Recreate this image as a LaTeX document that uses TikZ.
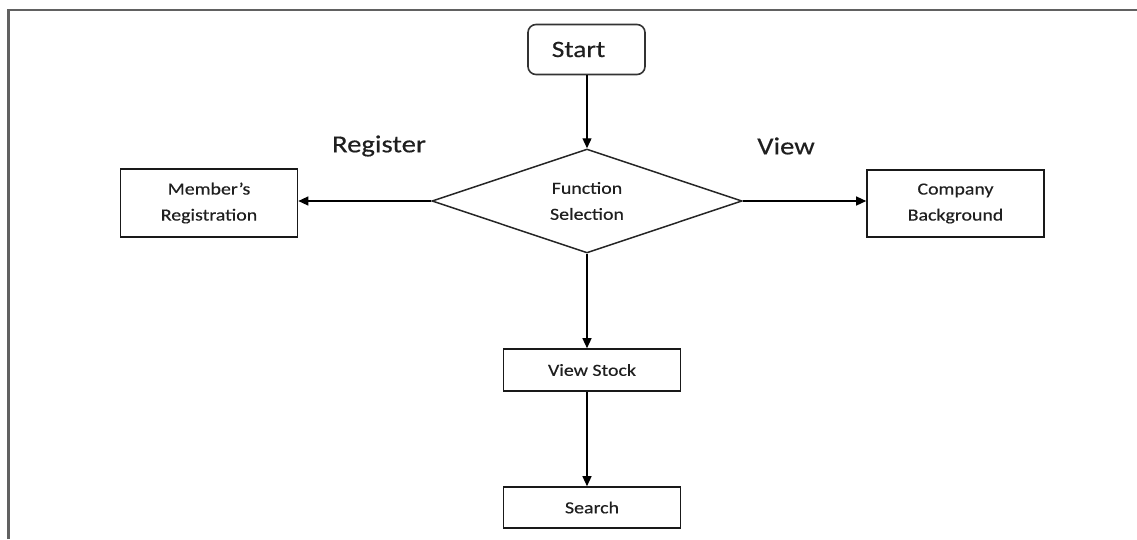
\documentclass[tikz,border=0pt]{standalone}
\usepackage{fontspec}
\setmainfont[FakeStretch=1.17,FakeBold=0.4]{Carlito}
\usetikzlibrary{shapes.geometric,arrows.meta}

\tikzset{
  box/.style={draw=black!90, line width=1.6pt, minimum width=177pt, inner sep=0pt,
    font=\fontsize{17}{26}\selectfont, align=center, text=black!88},
  decision/.style={diamond, draw=black!85, line width=1.5pt, minimum width=310pt,
    minimum height=104pt, inner sep=0pt, aspect=3,
    font=\fontsize{17}{26}\selectfont, align=center, text=black!88},
  terminal/.style={draw=black!80, line width=1.6pt, rounded corners=8pt,
    minimum width=117pt, minimum height=50pt, inner sep=0pt,
    font=\fontsize{23.5}{28}\selectfont, text=black!88},
  flow/.style={line width=1.3pt, draw=black, -{Triangle[length=10pt,width=9pt]}},
  branch/.style={font=\fontsize{24.5}{28}\selectfont, text=black!88},
  frame/.style={draw=black!62, line width=2.6pt}
}

\begin{document}
\begin{tikzpicture}[x=1pt,y=-1pt]
  \useasboundingbox (0,0) rectangle (1137,539);

  % outer frame (left and top edges only)
  \draw[frame] (8.5,539) -- (8.5,10) -- (1137,10);

  % nodes
  \node[terminal] (start) at (586.5,49.5) {Start\hspace*{16pt}};
  \node[decision] (fs) at (587,201) {Function\\Selection};
  \node[box, minimum height=68pt] (mr) at (209,203) {Member’s\\Registration};
  \node[box, minimum height=67pt] (cb) at (955.5,203.5) {Company\\Background};
  \node[box, minimum height=42pt] (vs) at (592,370) {View Stock};
  \node[box, minimum height=41pt] (sr) at (592,507.5) {Search};

  % branch labels
  \node[branch] (lreg) at (379,146) {Register};
  \node[branch] (lview) at (786,146) {View};

  % connectors
  \draw[flow] (start.south -| fs.north) -- (fs.north);
  \draw[flow] (fs.west) -- (fs.west -| mr.east);
  \draw[flow] (fs.east) -- (fs.east -| cb.west);
  \draw[flow] (fs.south) -- (fs.south |- vs.north);
  \draw[flow] (vs.south -| fs.south) -- (sr.north -| fs.south);
\end{tikzpicture}
\end{document}
